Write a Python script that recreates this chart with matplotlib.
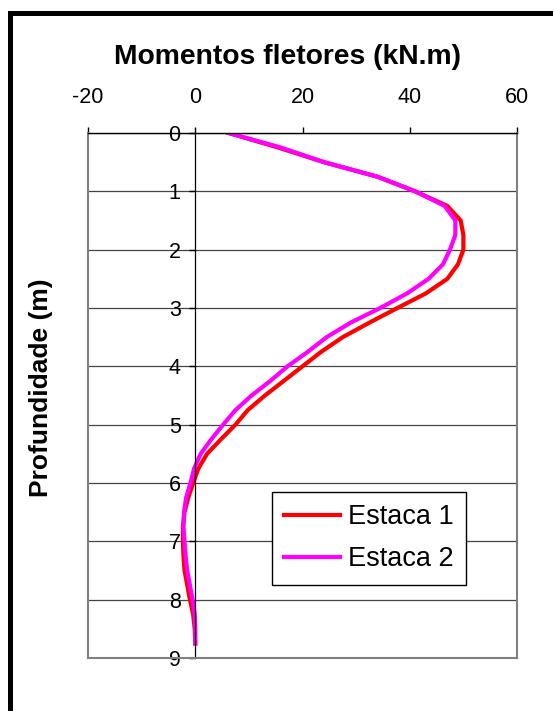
import matplotlib
matplotlib.use("Agg")
import matplotlib.pyplot as plt
from matplotlib.patches import Rectangle

plt.rcParams['font.family'] = ['Liberation Sans', 'DejaVu Sans']
plt.rcParams['axes.unicode_minus'] = False

# profundidade (m)
prof = [0, 0.25, 0.5, 0.75, 1.0, 1.25, 1.5, 1.75, 2.0, 2.25, 2.5, 2.75,
        3.0, 3.25, 3.5, 3.75, 4.0, 4.25, 4.5, 4.75, 5.0, 5.25, 5.5, 5.75,
        6.0, 6.25, 6.5, 6.75, 7.0, 7.25, 7.5, 7.75, 8.0, 8.25, 8.5, 8.75]

# momentos fletores (kN.m)
estaca1 = [6.2, 15.5, 24.0, 34.0, 41.0, 47.0, 49.5, 50.0, 50.0, 49.0, 47.0, 43.0,
           37.7, 32.5, 27.5, 23.5, 20.0, 16.5, 13.0, 9.8, 7.5, 4.8, 2.2, 0.6,
           -0.4, -1.3, -2.0, -2.3, -2.3, -2.2, -2.0, -1.5, -1.0, -0.4, -0.1, 0.0]
estaca2 = [6.2, 16.0, 24.0, 34.0, 41.0, 46.5, 48.5, 48.5, 47.5, 46.2, 43.5, 39.5,
           34.5, 29.0, 24.5, 21.0, 17.2, 14.0, 10.5, 7.5, 5.2, 3.0, 1.0, -0.2,
           -0.9, -1.7, -2.1, -2.2, -2.0, -1.8, -1.5, -1.0, -0.5, -0.1, 0.0, 0.0]

xticks = [-20, 0, 20, 40, 60]
yticks = list(range(10))

W, H = 553, 711
fig = plt.figure(figsize=(W / 100, H / 100), dpi=100)
fig.patch.set_facecolor('white')

# moldura preta da figura
fig.patches.append(Rectangle((9.5 / W, -0.1), 1.2, 1.1 - 13 / H,
                             transform=fig.transFigure, fill=False,
                             edgecolor='black', linewidth=3.6))

ax = fig.add_axes([88 / W, 1 - 658 / H, (517 - 88) / W, (658 - 133) / H])

ax.plot(estaca1, prof, color='#ff0000', lw=3, label='Estaca 1')
ax.plot(estaca2, prof, color='#ff00ff', lw=3, label='Estaca 2')

ax.set_xlim(-20, 60)
ax.set_ylim(9, 0)
ax.xaxis.tick_top()
ax.set_xticks(xticks)
ax.set_yticks(yticks)
ax.tick_params(axis='x', direction='out', length=4, width=1, pad=14,
               labelsize=15.5, colors='black')
ax.tick_params(axis='y', direction='out', length=4.5, width=1, pad=6,
               labelsize=15.5)

ax.grid(axis='y', color='#444444', lw=0.9)
ax.set_axisbelow(True)

ax.spines['left'].set_position(('data', 0))
ax.spines['left'].set_color('black')
ax.spines['left'].set_linewidth(0.9)
ax.spines['top'].set_color('black')
ax.spines['top'].set_linewidth(1.0)
for s in ['right', 'bottom']:
    ax.spines[s].set_color('#808080')
    ax.spines[s].set_linewidth(1.5)
ax.axvline(-20, color='#808080', lw=1.5, clip_on=False)

fig.text(287 / W, 1 - 64 / H, 'Momentos fletores (kN.m)', ha='center',
         va='baseline', fontsize=20.3, fontweight='bold')
fig.text(41 / W, 1 - 388 / H, 'Profundidade (m)', ha='center', va='center',
         rotation=90, fontsize=19, fontweight='bold')

leg = ax.legend(loc='upper left', bbox_to_anchor=(272 / W, 1 - 492 / H),
                bbox_transform=fig.transFigure, borderaxespad=0,
                fontsize=19.5, frameon=True, fancybox=False, framealpha=1,
                edgecolor='black', handlelength=2.05, handletextpad=0.3,
                labelspacing=0.6, borderpad=0.45)
leg.get_frame().set_linewidth(1.0)

fig.savefig('out.png', dpi=100)
